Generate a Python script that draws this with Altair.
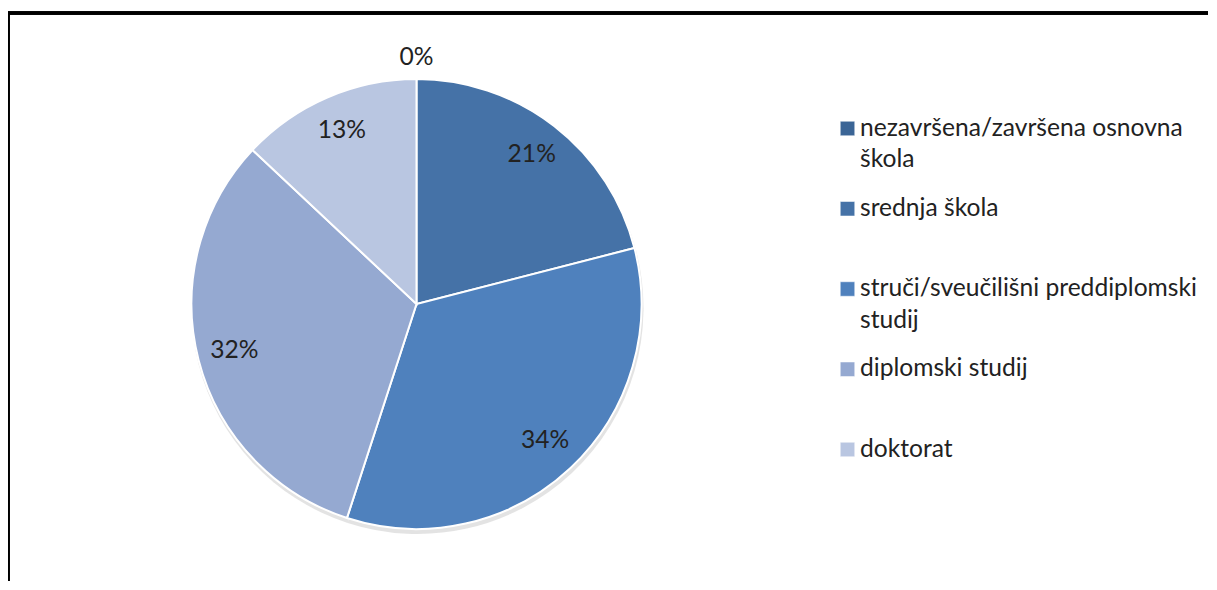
import altair as alt
import pandas as pd

categories = [
    "nezavršena/završena osnovna škola",
    "srednja škola",
    "struči/sveučilišni preddiplomski studij",
    "diplomski studij",
    "doktorat",
]
legend_lines = [
    "nezavršena/završena osnovna\nškola",
    "srednja škola",
    "struči/sveučilišni preddiplomski\nstudij",
    "diplomski studij",
    "doktorat",
]
values = [0, 21, 34, 32, 13]
colors = ["#3b6596", "#4572a7", "#4f81bd", "#95a9d1", "#b9c6e1"]

df = pd.DataFrame({
    "cat": categories,
    "val": values,
    "ord": list(range(len(categories))),
    "leg": legend_lines,
})

FONT = "Lato"
FS = 24.6
CX, CY, R = 408.5, 291, 225
W, H = 1200, 568

color = alt.Color("cat:N", scale=alt.Scale(domain=categories, range=colors), legend=None)

base = alt.Chart(df)

shadow = base.mark_arc(radius=R + 1, color="#d0d0d0", opacity=0.6).encode(
    theta=alt.Theta("val:Q", stack=True),
    order=alt.Order("ord:Q"),
    x=alt.value(CX + 1), y=alt.value(CY + 4),
)

pie = base.mark_arc(radius=R, stroke="white", strokeWidth=2).encode(
    theta=alt.Theta("val:Q", stack=True),
    order=alt.Order("ord:Q"),
    color=color,
    x=alt.value(CX), y=alt.value(CY),
)

labels = base.transform_calculate(
    lab="datum.val + '%'",
    r="datum.val == 0 ? 246 : 188",
).mark_text(font=FONT, fontSize=FS, color="#222222", align="center", baseline="middle").encode(
    theta=alt.Theta("val:Q", stack=True),
    order=alt.Order("ord:Q"),
    radius=alt.Radius("r:Q", scale=None),
    text="lab:N",
    x=alt.value(CX), y=alt.value(CY),
)

ysc = alt.Scale(domain=[0, 4], range=[115.5, 436.5])

leg_sq = base.mark_square(size=210, opacity=1, stroke="#ffffff", strokeWidth=0.5).encode(
    x=alt.value(839.5),
    y=alt.Y("ord:Q", scale=ysc, axis=None),
    color=color,
)

leg_tx = base.mark_text(font=FONT, fontSize=FS, color="#222222", align="left",
                        baseline="middle", lineBreak="\n", lineHeight=31.5).encode(
    x=alt.value(852),
    y=alt.Y("ord:Q", scale=ysc, axis=None),
    text="leg:N",
)

# frame (top and left edges visible in the reference)
frame_top = base.mark_rule(color="black", strokeWidth=3).encode(
    x=alt.value(0), x2=alt.value(W), y=alt.value(0))
frame_left = base.mark_rule(color="black", strokeWidth=3).encode(
    x=alt.value(0), y=alt.value(0), y2=alt.value(H + 10))

chart = alt.layer(shadow, pie, labels, leg_sq, leg_tx, frame_top, frame_left).properties(
    width=W, height=H,
    padding={"left": 0, "top": 5, "right": 0, "bottom": 0},
    autosize=alt.AutoSizeParams(type="none"),
).configure_view(stroke=None).configure(background="white")

chart.save("out.html", embed_options={"renderer": "svg", "actions": False})
